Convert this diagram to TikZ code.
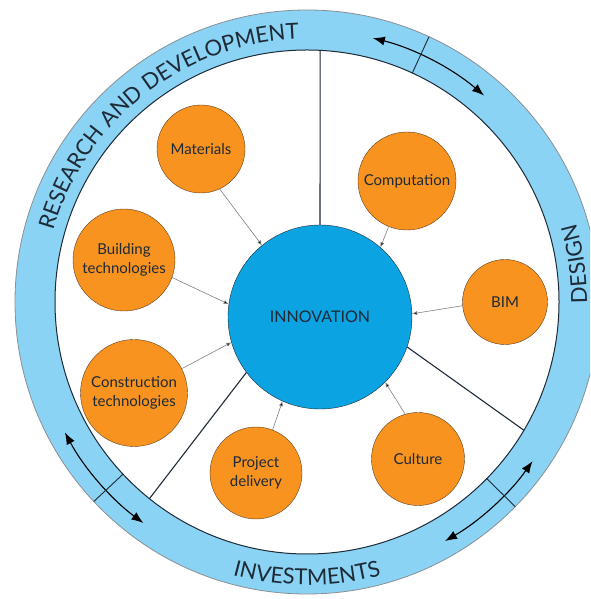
\documentclass[tikz,border=0pt]{standalone}
\usepackage{fontspec}
\setmainfont{Lato}
\usetikzlibrary{shapes,arrows.meta,decorations.text}
\definecolor{ringblue}{HTML}{8AD3F4}
\definecolor{innoblue}{HTML}{0CA3E2}
\definecolor{topicorange}{HTML}{F7931E}
\definecolor{rimgray}{HTML}{8A8F94}
\definecolor{inkdark}{HTML}{1E2A36}

\begin{document}
\begin{tikzpicture}[x=1pt,y=1pt]
      \tikzstyle{topic}=[circle,draw=brown!50!black,fill=topicorange,align=center,text=inkdark,font=\fontsize{15}{19}\selectfont,inner sep=0pt]
      \tikzstyle{feed}=[draw=gray,line width=0.6pt,-{Latex[length=5pt,width=4pt,fill=black]}]
      \tikzstyle{divider}=[draw=inkdark,line width=1.1pt]
      \tikzstyle{turnarrow}=[draw=black,line width=1.1pt,{Latex[length=12pt,width=9pt]}-{Latex[length=12pt,width=9pt]}]
      \tikzstyle{ringtick}=[draw=inkdark,line width=0.9pt]
      \tikzstyle{ringlabel}=[decoration={text along path,text align=center},decorate]
      \useasboundingbox (0,0) rectangle (590,599);
      \clip (0,0) rectangle (590,599);
      \coordinate (ctr) at (307,297);
      % ring
      \fill[ringblue,even odd rule] (ctr) circle[radius=292] (ctr) circle[radius=252];
      \draw[rimgray,line width=0.8pt] (ctr) circle[radius=292];
      \draw[inkdark,line width=1pt] (ctr) circle[radius=252];
      \path[ringlabel,decoration={text={|\fontsize{22}{22}\selectfont\color{inkdark}|RESEARCH AND DEVELOPMENT}}]
        ([shift={(180:263)}]ctr) arc[start angle=180,end angle=76,radius=263];
      \path[ringlabel,decoration={text={|\fontsize{22}{22}\selectfont\color{inkdark}|DESIGN}}]
        ([shift={(-22:280)}]ctr) arc[start angle=-22,end angle=38,radius=280];
      \path[ringlabel,decoration={text={|\fontsize{22}{22}\selectfont\color{inkdark}|INVESTMENTS}}]
        ([shift={(235:283)}]ctr) arc[start angle=235,end angle=305,radius=283];
      % arrows round the ring
      \draw[turnarrow] ([shift={(76:272)}]ctr) arc[start angle=76,end angle=49.4,radius=272];
      \draw[turnarrow] ([shift={(208.3:275)}]ctr) arc[start angle=208.3,end angle=233.5,radius=275];
      \draw[turnarrow] ([shift={(324.8:276)}]ctr) arc[start angle=324.8,end angle=300,radius=276];
      \draw[ringtick] ([shift={(65.3:252)}]ctr) -- ([shift={(65.3:292)}]ctr);
      \draw[ringtick] ([shift={(223.1:252)}]ctr) -- ([shift={(223.1:292)}]ctr);
      \draw[ringtick] ([shift={(315.5:252)}]ctr) -- ([shift={(315.5:292)}]ctr);
      \coordinate (rimtop) at ([shift={(87:252)}]ctr);
      \coordinate (rimright) at ([shift={(329.4:252)}]ctr);
      \coordinate (rimleft) at ([shift={(231.3:252)}]ctr);
      % centre and topics
      \node[circle,draw=inkdark,fill=innoblue,minimum size=184pt,text=inkdark,font=\fontsize{16}{18}\selectfont] (inno) at (320,282) {INNOVATION};
      \node[topic,minimum size=88pt] (mat) at (201,450) {Materials};
      \node[topic,minimum size=102pt] (bldg) at (124,339) {Building\\technologies};
      \node[topic,minimum size=107pt] (cons) at (134,206) {Construction\\technologies};
      \node[topic,minimum size=92pt] (proj) at (256,126) {Project\\delivery};
      \node[topic,minimum size=93pt] (cult) at (418,140) {Culture};
      \node[topic,minimum size=85pt] (bim) at (505,297) {BIM};
      \node[topic,minimum size=98pt] (comp) at (407,418) {Computation};
      \draw[divider] (inno.90) -- (rimtop);
      \draw[divider] (inno.341) -- (rimright);
      \draw[divider] (inno.217) -- (rimleft);
      \draw[feed] (mat.295) -- (inno.129);
      \draw[feed] (bldg.340) -- (inno.172);
      \draw[feed] (cons.27) -- (inno.196);
      \draw[feed] (proj.69) -- (inno.246);
      \draw[feed] (cult.106) -- (inno.315);
      \draw[feed] (bim.185) -- (inno.2.5);
      \draw[feed] (comp.248) -- (inno.49);
\end{tikzpicture}
\end{document}
